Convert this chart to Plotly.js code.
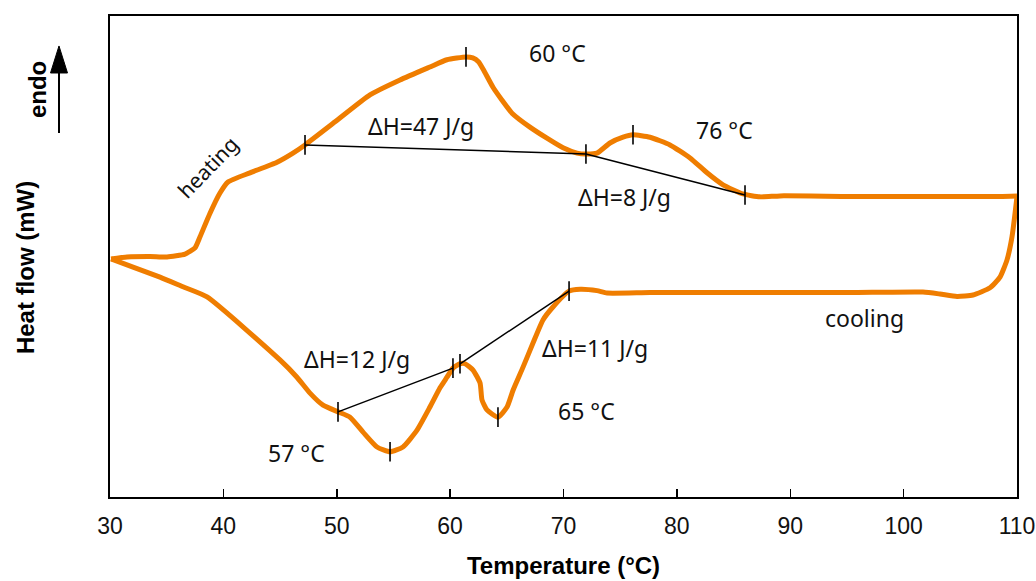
<!DOCTYPE html>
<html>
<head>
<meta charset="utf-8">
<script src="https://cdn.plot.ly/plotly-3.0.1.min.js"></script>
<style>
  html, body { margin: 0; padding: 0; background: #ffffff; }
  #chart { width: 1036px; height: 581px; }
</style>
</head>
<body>
<div id="chart"></div>
<script>
// DSC thermogram: heating run then cooling run (heat flow in arbitrary mW scale)
const heatingT = [30.09, 31.50, 33.53, 35.03, 36.62, 37.50, 37.94, 38.82, 39.70, 40.41,
  42.35, 44.73, 46.14, 47.20, 49.85, 52.93, 55.58, 58.22, 59.72,
  61.40, 62.00, 62.50, 62.90, 63.78, 64.58, 65.46, 67.04, 68.54, 69.96, 71.19,
  71.98, 72.95, 74.10, 75.25, 76.13, 77.63, 79.39, 81.16, 82.66, 84.07,
  85.83, 87.33, 89.10, 95.27, 104.09, 108.50, 110.00];
const heatingHF = [4.95, 4.99, 5.00, 4.99, 5.05, 5.18, 5.41, 5.90, 6.32, 6.55,
  6.74, 6.96, 7.15, 7.32, 7.80, 8.36, 8.67, 8.94, 9.09,
  9.15, 9.13, 9.05, 8.90, 8.52, 8.25, 7.98, 7.69, 7.46, 7.26, 7.15,
  7.13, 7.15, 7.36, 7.48, 7.53, 7.48, 7.32, 7.05, 6.74, 6.49,
  6.30, 6.24, 6.26, 6.25, 6.25, 6.25, 6.26];

const coolingT = [110.00, 109.56, 109.12, 108.50, 107.62, 106.12, 104.71, 103.21, 101.71, 95.27,
  86.45, 77.63, 73.84, 72.95, 71.46, 70.49, 69.07, 68.19, 67.31, 66.43,
  65.55, 65.02, 64.22, 63.25, 62.81, 62.64, 62.02, 61.31, 60.87, 60.25,
  59.72, 59.11, 58.22, 57.08, 55.84, 54.70, 53.55, 52.32, 51.17, 50.11,
  48.79, 47.64, 46.49, 44.99, 38.56, 36.44, 34.41, 32.03, 30.09];
const coolingHF = [6.24, 5.41, 4.93, 4.57, 4.35, 4.20, 4.17, 4.22, 4.26, 4.25,
  4.25, 4.25, 4.24, 4.29, 4.32, 4.28, 3.95, 3.68, 3.20, 2.70,
  2.22, 1.87, 1.66, 1.81, 2.02, 2.37, 2.64, 2.77, 2.77, 2.68,
  2.49, 2.27, 1.87, 1.39, 1.04, 0.94, 1.04, 1.35, 1.66, 1.77,
  1.91, 2.16, 2.49, 2.85, 4.16, 4.37, 4.57, 4.78, 4.95];

// Integration baselines (start/end of each peak)
const baselineHeat1T = [47.20, 71.98], baselineHeat1HF = [7.32, 7.13];
const baselineHeat2T = [71.98, 86.01], baselineHeat2HF = [7.13, 6.28];
const baselineCool1T = [50.11, 60.25], baselineCool1HF = [1.77, 2.68];
const baselineCool2T = [60.87, 70.49], baselineCool2HF = [2.77, 4.28];

// Onset / peak / end markers on the curve
const markerT = [47.20, 61.40, 71.98, 76.13, 86.01, 50.11, 54.70, 60.25, 60.87, 64.22, 70.49];
const markerHF = [7.32, 9.15, 7.13, 7.53, 6.28, 1.77, 0.94, 2.68, 2.77, 1.66, 4.28];

// Text labels
const labelText = ['60 °C', '76 °C', 'ΔH=47 J/g', 'ΔH=8 J/g', 'ΔH=12 J/g', '57 °C', '65 °C', 'ΔH=11 J/g', 'cooling'];
const labelT = [69.43, 84.16, 57.43, 75.42, 51.79, 46.41, 72.07, 72.78, 96.59];
const labelHF = [9.23, 7.63, 7.71, 6.24, 2.87, 0.91, 1.79, 3.10, 3.72];
const xTicks = [30, 40, 50, 60, 70, 80, 90, 100, 110];

const orange = '#EF7D00';
const curveLine = { color: orange, width: 5, shape: 'spline', smoothing: 0.5 };
const baseLine = { color: '#000000', width: 1.5 };

const traces = [
  { x: heatingT, y: heatingHF, mode: 'lines', line: curveLine, hoverinfo: 'skip' },
  { x: coolingT, y: coolingHF, mode: 'lines', line: curveLine, hoverinfo: 'skip' },
  { x: baselineHeat1T, y: baselineHeat1HF, mode: 'lines', line: baseLine },
  { x: baselineHeat2T, y: baselineHeat2HF, mode: 'lines', line: baseLine },
  { x: baselineCool1T, y: baselineCool1HF, mode: 'lines', line: baseLine },
  { x: baselineCool2T, y: baselineCool2HF, mode: 'lines', line: baseLine },
  { x: markerT, y: markerHF, mode: 'markers',
    marker: { symbol: 'line-ns', size: 14, line: { color: '#000000', width: 1.6 } } }
];

const labelFont = { family: 'Noto Sans, Liberation Sans, sans-serif', size: 23, color: '#111111' };
const boldFont = { family: 'Liberation Sans, Arial, sans-serif', size: 24, color: '#000000' };

const annotations = labelText.map((t, i) => ({
  x: labelT[i], y: labelHF[i], xref: 'x', yref: 'y', text: t,
  showarrow: false, font: labelFont, xanchor: 'center', yanchor: 'middle'
}));
annotations.push({
  x: 38.64, y: 6.86, xref: 'x', yref: 'y', text: 'heating', textangle: -46,
  showarrow: false, font: Object.assign({}, labelFont, { size: 21 }), xanchor: 'center', yanchor: 'middle'
});
annotations.push({
  x: -0.0937, y: 0.476, xref: 'paper', yref: 'paper', text: '<b>Heat flow (mW)</b>',
  textangle: -90, showarrow: false, font: boldFont, xanchor: 'center', yanchor: 'middle'
});
annotations.push({
  x: -0.0805, y: 0.848, xref: 'paper', yref: 'paper', text: '<b>endo</b>',
  textangle: -90, showarrow: false, font: boldFont, xanchor: 'center', yanchor: 'middle'
});

// "endo" direction arrow: shaft plus filled head
const shapes = [
  { type: 'line', xref: 'paper', yref: 'paper', x0: -0.05623, x1: -0.05623, y0: 0.7568, y1: 0.89,
    line: { color: '#000000', width: 2 } },
  { type: 'path', xref: 'paper', yref: 'paper',
    path: 'M -0.06560 0.8815 L -0.04686 0.8815 L -0.05623 0.9377 Z',
    fillcolor: '#000000', line: { color: '#000000', width: 1 } }
];

const layout = {
  width: 1036, height: 581,
  margin: { l: 110, r: 19, t: 16, b: 84 },
  paper_bgcolor: '#ffffff', plot_bgcolor: '#ffffff',
  showlegend: false,
  xaxis: {
    range: [30, 110], tickvals: xTicks, ticktext: xTicks.map(String),
    showgrid: false, zeroline: false,
    showline: true, mirror: true, linecolor: '#000000', linewidth: 2,
    ticks: 'inside', ticklen: 8, tickwidth: 1.5, tickcolor: '#000000',
    ticklabelstandoff: 7,
    tickfont: { family: 'Liberation Sans Narrow, Liberation Sans, Arial, sans-serif', size: 23, color: '#111111' },
    title: { text: '<b>Temperature (°C)</b>', font: { family: 'Liberation Sans, Arial, sans-serif', size: 24, color: '#000000' }, standoff: 20 }
  },
  yaxis: {
    range: [0, 10], showgrid: false, zeroline: false,
    showline: true, mirror: true, linecolor: '#000000', linewidth: 2,
    ticks: '', showticklabels: false
  },
  annotations: annotations,
  shapes: shapes
};

Plotly.newPlot('chart', traces, layout, { staticPlot: true, displayModeBar: false });
</script>
</body>
</html>
